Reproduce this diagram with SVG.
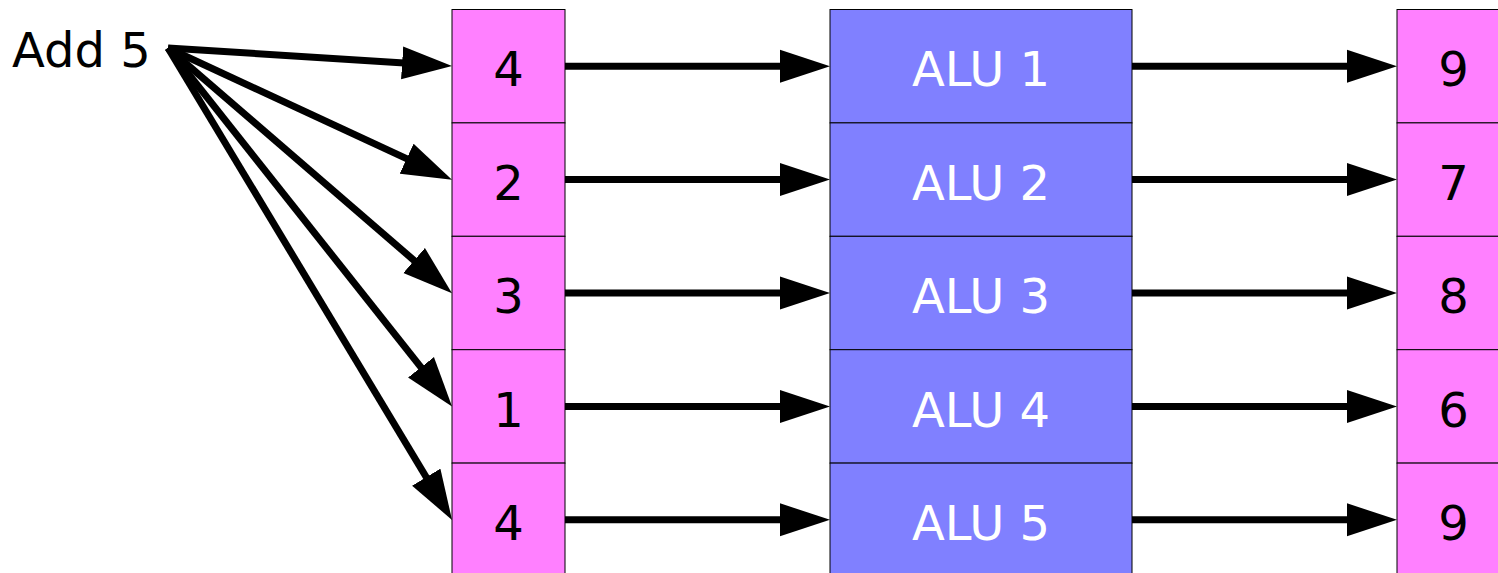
<svg xmlns="http://www.w3.org/2000/svg" width="1498" height="573" viewBox="0 0 1498 573">
<style>
.pink{fill:#ff80ff;stroke:#000;stroke-width:1}
.blue{fill:#8080ff;stroke:#000;stroke-width:1}
.t{font-family:"DejaVu Sans",sans-serif;font-size:48px;text-anchor:middle}
.w{fill:#fff}
.k{fill:#000}
.c line{stroke:#000;stroke-width:7;marker-end:url(#ah)}
</style>
<defs>
<marker id="ah" markerUnits="userSpaceOnUse" viewBox="0 -17 50 34" markerWidth="50" markerHeight="34" refX="10" refY="0" orient="auto">
<path d="M0,-16.5 L50,0 L0,16.5 z" fill="#000"/>
</marker>
</defs>
<rect width="1498" height="573" fill="#fff"/>
<text x="12" y="67" style="font-family:'DejaVu Sans',sans-serif;font-size:48px" fill="#000">Add 5</text>
<g id="in">
<g id="in1"><rect class="pink" x="452" y="9.5" width="113" height="113.4"/><text class="t k" x="508.5" y="86">4</text></g>
<g id="in2"><rect class="pink" x="452" y="122.9" width="113" height="113.4"/><text class="t k" x="508.5" y="199.5">2</text></g>
<g id="in3"><rect class="pink" x="452" y="236.3" width="113" height="113.4"/><text class="t k" x="508.5" y="313">3</text></g>
<g id="in4"><rect class="pink" x="452" y="349.7" width="113" height="113.4"/><text class="t k" x="508.5" y="426.5">1</text></g>
<g id="in5"><rect class="pink" x="452" y="463.1" width="113" height="113.4"/><text class="t k" x="508.5" y="540">4</text></g>
</g>
<g id="alu">
<g id="alu1"><rect class="blue" x="830" y="9.5" width="302" height="113.4"/><text class="t w" x="981" y="86">ALU 1</text></g>
<g id="alu2"><rect class="blue" x="830" y="122.9" width="302" height="113.4"/><text class="t w" x="981" y="199.5">ALU 2</text></g>
<g id="alu3"><rect class="blue" x="830" y="236.3" width="302" height="113.4"/><text class="t w" x="981" y="313">ALU 3</text></g>
<g id="alu4"><rect class="blue" x="830" y="349.7" width="302" height="113.4"/><text class="t w" x="981" y="426.5">ALU 4</text></g>
<g id="alu5"><rect class="blue" x="830" y="463.1" width="302" height="113.4"/><text class="t w" x="981" y="540">ALU 5</text></g>
</g>
<g id="out">
<g id="out1"><rect class="pink" x="1397" y="9.5" width="113" height="113.4"/><text class="t k" x="1453.5" y="86">9</text></g>
<g id="out2"><rect class="pink" x="1397" y="122.9" width="113" height="113.4"/><text class="t k" x="1453.5" y="199.5">7</text></g>
<g id="out3"><rect class="pink" x="1397" y="236.3" width="113" height="113.4"/><text class="t k" x="1453.5" y="313">8</text></g>
<g id="out4"><rect class="pink" x="1397" y="349.7" width="113" height="113.4"/><text class="t k" x="1453.5" y="426.5">6</text></g>
<g id="out5"><rect class="pink" x="1397" y="463.1" width="113" height="113.4"/><text class="t k" x="1453.5" y="540">9</text></g>
</g>
<g id="connectors" class="c">
<line x1="168" y1="48" x2="412.1" y2="63.5"/>
<line x1="168" y1="48" x2="415.7" y2="162.9"/>
<line x1="168" y1="48" x2="421.7" y2="267.0"/>
<line x1="168" y1="48" x2="427.2" y2="375.2"/>
<line x1="168" y1="48" x2="431.4" y2="485.7"/>
<line x1="565" y1="66.2" x2="790" y2="66.2"/>
<line x1="565" y1="179.6" x2="790" y2="179.6"/>
<line x1="565" y1="293" x2="790" y2="293"/>
<line x1="565" y1="406.4" x2="790" y2="406.4"/>
<line x1="565" y1="519.8" x2="790" y2="519.8"/>
<line x1="1132" y1="66.2" x2="1357" y2="66.2"/>
<line x1="1132" y1="179.6" x2="1357" y2="179.6"/>
<line x1="1132" y1="293" x2="1357" y2="293"/>
<line x1="1132" y1="406.4" x2="1357" y2="406.4"/>
<line x1="1132" y1="519.8" x2="1357" y2="519.8"/>
</g>
</svg>
